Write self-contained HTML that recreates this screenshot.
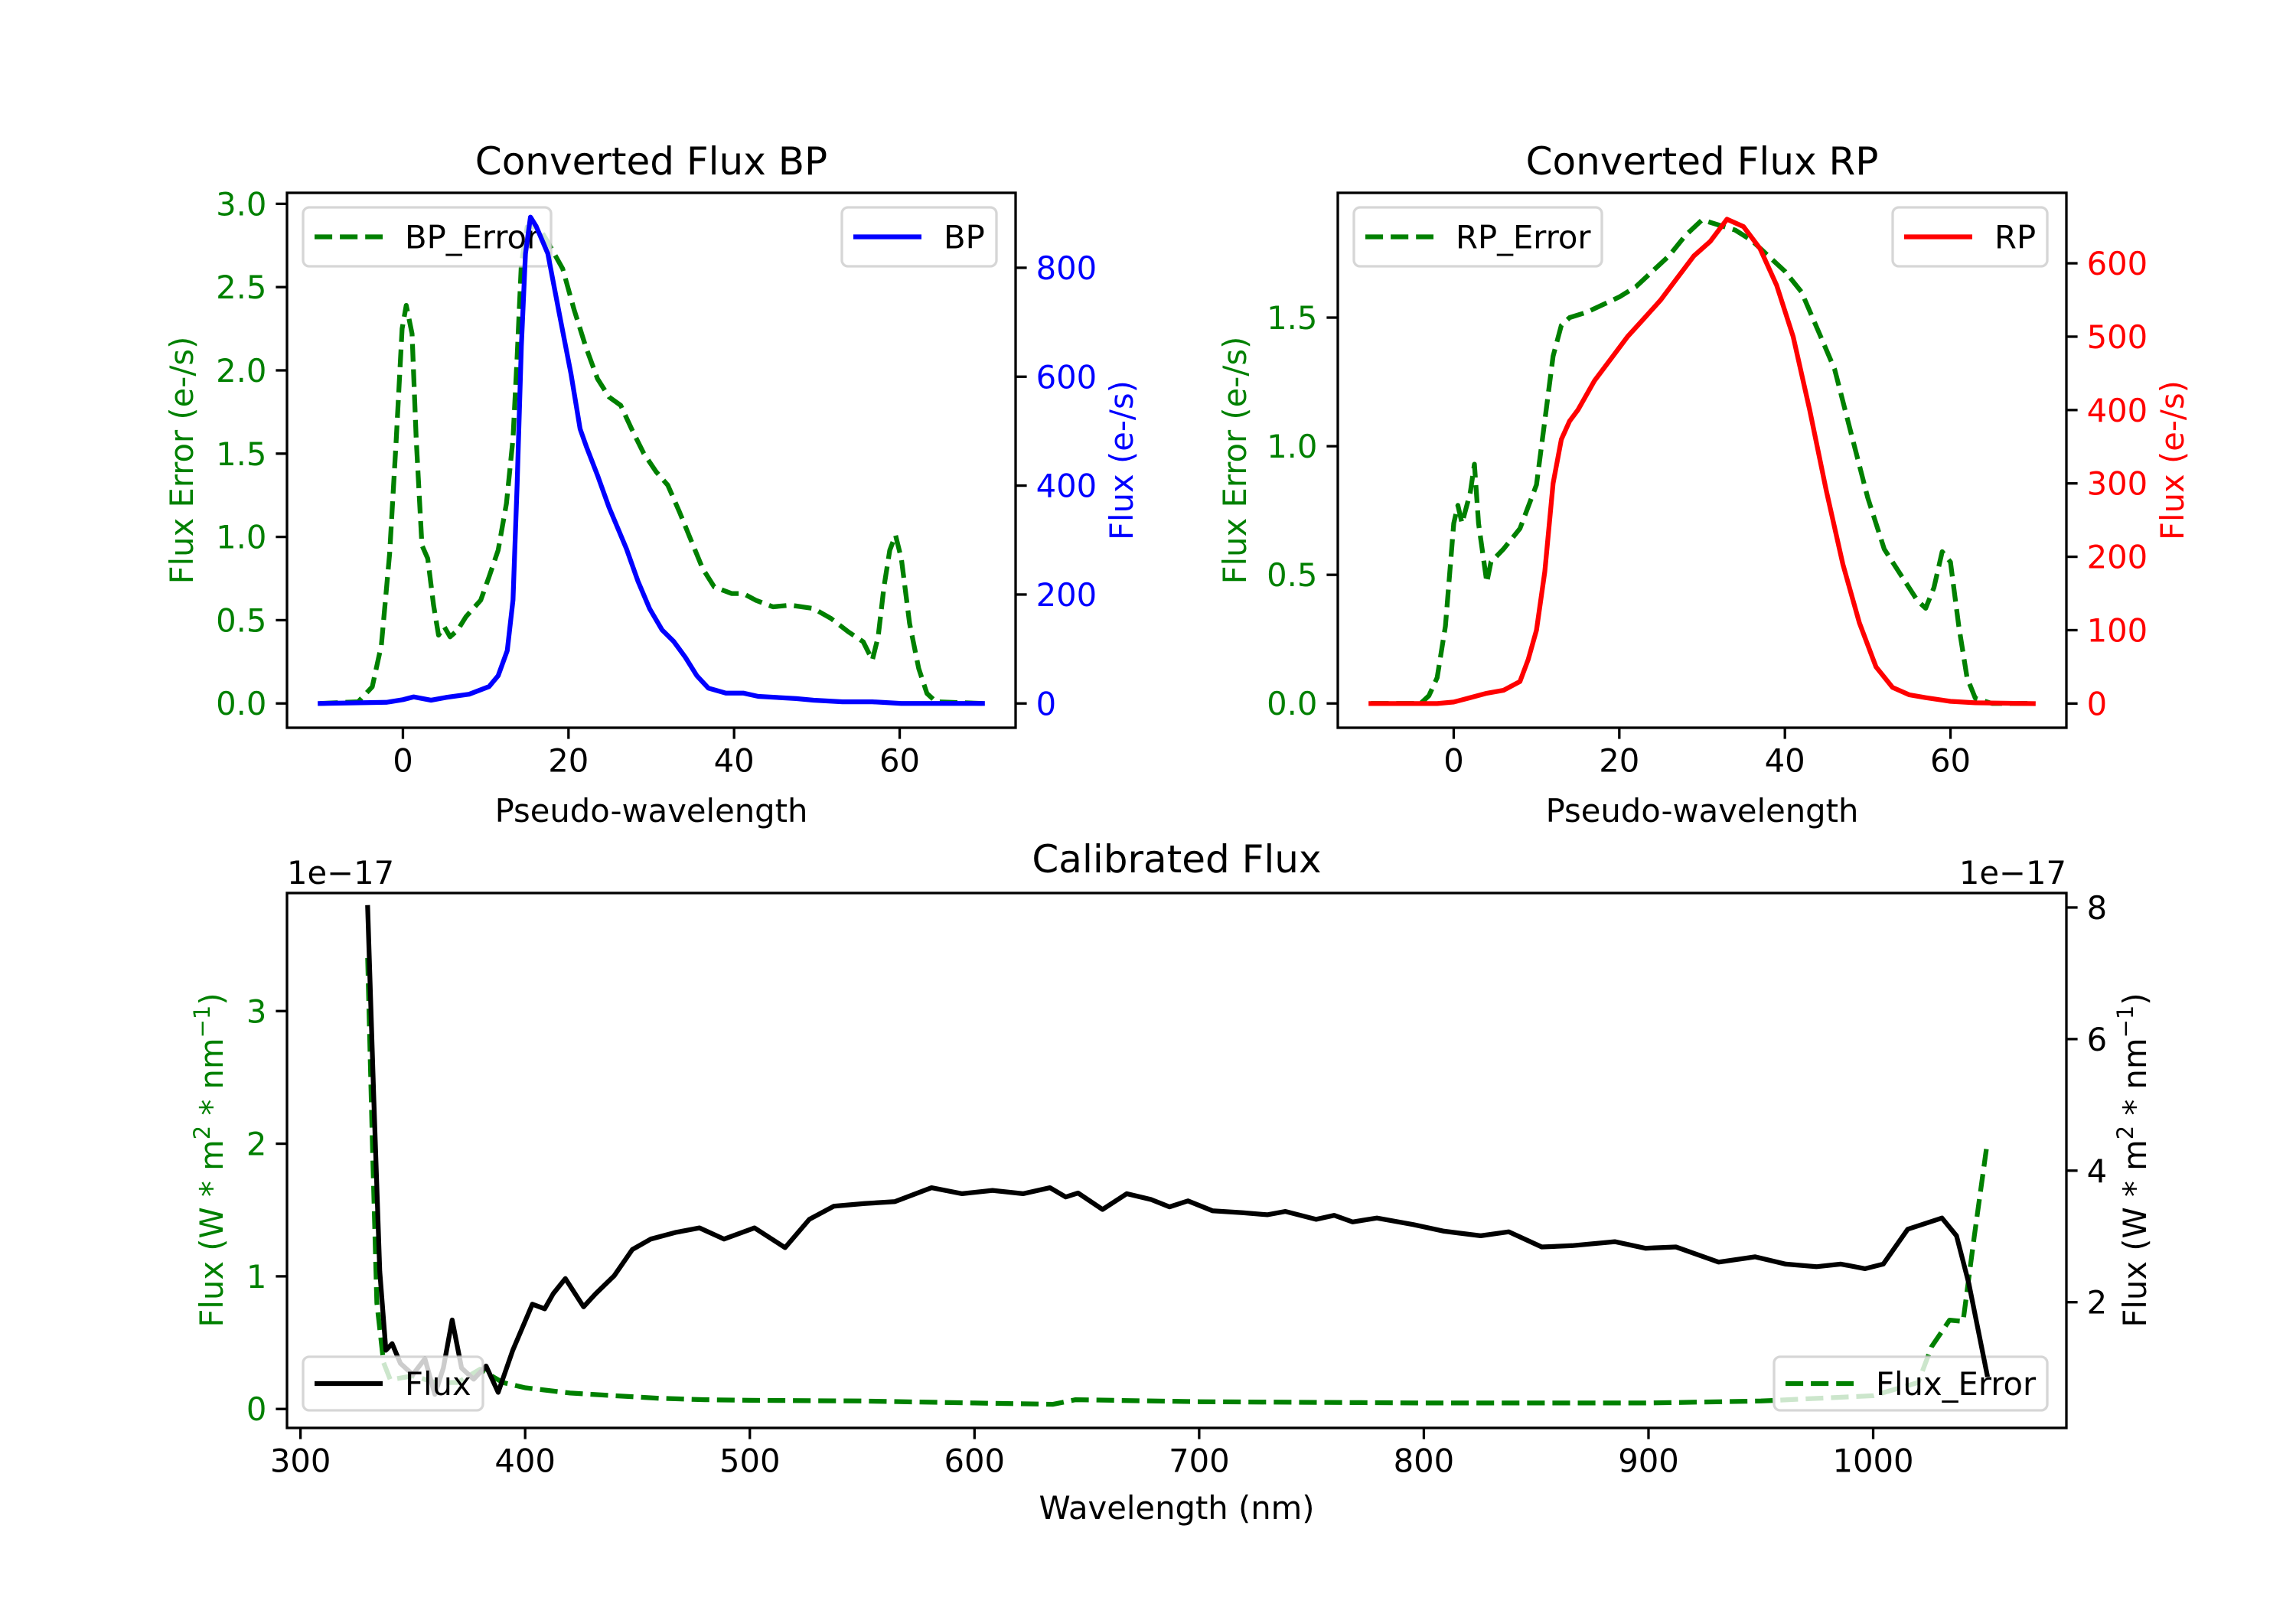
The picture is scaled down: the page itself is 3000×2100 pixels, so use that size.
<!DOCTYPE html>
<html><head><meta charset="utf-8">
<style>
html,body{margin:0;padding:0;background:#fff;}
svg{display:block;font-family:"DejaVu Sans","Liberation Sans",sans-serif;}
</style></head>
<body>
<svg id="fig" xmlns="http://www.w3.org/2000/svg" width="3000" height="2100" viewBox="0 0 3000 2100">
<rect x="0" y="0" width="3000" height="2100" fill="#fff"/>
<g id="root"></g>
</svg>
<script>
// ---- BP panel data ----
const bpX = [-10,-2,0,1.3,3.4,5.2,8,10.4,11.5,12.6,13.3,13.8,14.3,14.8,15.4,16.1,17.5,18.9,20.3,21.4,22.2,23.5,24.9,27,28.4,29.8,31.3,32.7,34.1,35.5,36.9,39,41.1,42.9,47.5,49.6,53.1,56.7,60.2,70];
const bpFlux = [0,2,7,12,6,11,17,31,51,97,190,402,656,826,893,876,826,715,605,504,470,419,360,284,224,174,135,114,85,51,28,19,19,13,9,6,3,3,0,0];
const bpErrX = [-10,-5.4,-3.7,-2.6,-1.6,-0.8,-0.1,0.4,1.1,1.6,2.3,3.0,3.7,4.3,5.0,5.7,6.6,7.6,9.4,10.4,11.5,12.5,13.3,13.8,14.3,15.0,16.4,17.5,19.3,20.7,22.1,23.5,24.9,26.3,27.7,29.1,30.6,32.0,33.4,34.8,36.2,37.6,39.7,41.1,42.6,44.7,46.8,49.6,51.7,53.8,55.6,56.7,57.4,58.1,58.8,59.5,60.2,61.2,62.3,63.3,64.4,70];
const bpErr = [0,0.01,0.1,0.35,0.9,1.59,2.25,2.39,2.22,1.59,0.95,0.87,0.59,0.41,0.46,0.4,0.44,0.52,0.62,0.76,0.92,1.2,1.59,2.08,2.64,2.86,2.86,2.77,2.61,2.36,2.14,1.95,1.84,1.79,1.64,1.5,1.39,1.31,1.15,0.98,0.81,0.7,0.66,0.66,0.62,0.58,0.59,0.57,0.51,0.43,0.37,0.26,0.4,0.7,0.92,1.01,0.87,0.48,0.21,0.06,0.01,0];
// ---- RP panel data ----
const rpX = [-10,-2,0,2,4,6,8,9,10,11,12,13,14,15,17,19,21,23,25,27,29,31,33,35,37,39,41,43,45,47,49,51,53,55,57,60,63,70];
const rpFlux = [0,0,2,8,14,18,30,60,100,180,300,360,385,400,440,470,500,525,550,580,610,630,660,650,620,570,500,400,290,190,110,50,22,12,8,3,1,0];
const rpErrX = [-10,-4,-3,-2,-1,0,0.5,1,2,2.5,3,4,4.5,6,8,10,11,12,13,14,16,18,20,22,24,26,28,30,32,34,36,38,40,42,44,46,48,50,52,54,56,57,58,59,60,61,62,63,65,70];
const rpErr = [0,0,0.03,0.1,0.3,0.7,0.77,0.7,0.82,0.93,0.7,0.47,0.55,0.6,0.68,0.85,1.1,1.35,1.47,1.5,1.52,1.55,1.58,1.62,1.68,1.74,1.82,1.88,1.86,1.84,1.8,1.74,1.68,1.6,1.45,1.3,1.05,0.8,0.6,0.5,0.4,0.37,0.45,0.59,0.55,0.3,0.1,0.02,0,0];
// ---- Calibrated panel data (units 1e-17) ----
const calX = [329.9,332.6,335.3,338,340.8,344.5,350,355.4,359.8,363.6,367.5,371.7,377.1,382.6,388,394.5,403.2,408.7,412.5,417.9,426,431.4,439.6,447.7,455.9,466.8,477.6,488.5,502.1,515.7,526.5,537.4,551,564.6,580.9,594.5,608,621.6,633.6,640.6,646.1,657,667.8,678.7,686.8,695,705.9,719.4,730.3,738.4,752,760.1,768.3,779.1,795.4,809,825.3,837.8,852.5,866,885,898.6,912.2,920.4,931.2,947.5,961.1,974.7,985.6,996.4,1004.5,1015.4,1030.6,1037.1,1042.6,1050.7];
const calFlux = [8.0,5.13,2.47,1.27,1.37,1.07,0.9,1.14,0.6,1.0,1.73,1.0,0.83,1.03,0.63,1.27,1.97,1.9,2.13,2.36,1.93,2.13,2.4,2.8,2.96,3.06,3.13,2.96,3.13,2.83,3.26,3.46,3.5,3.53,3.74,3.65,3.7,3.65,3.74,3.6,3.66,3.41,3.65,3.56,3.45,3.54,3.39,3.36,3.33,3.38,3.26,3.32,3.22,3.28,3.18,3.08,3.01,3.07,2.84,2.86,2.92,2.82,2.84,2.74,2.61,2.69,2.58,2.54,2.58,2.51,2.58,3.11,3.28,3.01,2.28,0.9];
const calErrX = [329.9,332,334,337,340,350,360,370,380,390,400,420,440,460,480,500,550,600,635,645,700,800,900,950,1000,1020,1026,1034,1040,1045,1050.7];
const calErr = [3.4,2.0,0.8,0.35,0.22,0.25,0.2,0.2,0.3,0.2,0.16,0.12,0.1,0.08,0.07,0.065,0.06,0.045,0.035,0.07,0.055,0.045,0.045,0.06,0.1,0.2,0.47,0.67,0.66,1.3,2.0];

const NS = 'http://www.w3.org/2000/svg';
const root = document.getElementById('root');
const FS = 41.7, TL = 14.6, LW = 6.25, SPW = 3.3;
function mk(tag, attrs, parent){ const e=document.createElementNS(NS,tag); for(const k in attrs) e.setAttribute(k,attrs[k]); (parent||root).appendChild(e); return e; }
function txt(s, attrs, parent){ const e=mk('text',attrs,parent); e.textContent=s; return e; }
function scale(d0,d1,r0,r1){ return v => r0+(v-d0)*(r1-r0)/(d1-d0); }
function linePath(xs, ys, sx, sy){ let d=''; for(let i=0;i<xs.length;i++){ d+=(i?'L':'M')+sx(xs[i]).toFixed(1)+','+sy(ys[i]).toFixed(1); } return d; }

function drawLine(g, xs, ys, sx, sy, color, dashed, name){
  const p = mk('path',{d:linePath(xs,ys,sx,sy),fill:'none',stroke:color,'stroke-width':LW,'stroke-linejoin':'round','stroke-linecap':dashed?'butt':'square'},g);
  if(dashed) p.setAttribute('stroke-dasharray','23.1 10');
  
  
  return p;
}
function drawLegend(g, x, y, w, h, label, color, dashed, name){
  const lg = mk('g',{},g);
  
  
  mk('rect',{x:x,y:y,width:w,height:h,rx:8,fill:'#fff','fill-opacity':0.8,stroke:'#cccccc','stroke-opacity':0.8,'stroke-width':3.3},lg);
  const l = mk('line',{x1:x+15,x2:x+104,y1:y+h/2,y2:y+h/2,stroke:color,'stroke-width':LW},lg);
  if(dashed) l.setAttribute('stroke-dasharray','23.1 10');
  txt(label,{x:x+133,y:y+h/2+15,'font-size':FS,fill:'#000'},lg);
}
function yTicks(g, vals, labels, x, sy, side, color){
  vals.forEach((v,i)=>{
    const y=sy(v);
    const dx = side==='left'?-TL:TL;
    mk('line',{x1:x,x2:x+dx,y1:y,y2:y,stroke:'#000','stroke-width':SPW},g);
    txt(labels[i],{x:side==='left'?x-TL-12:x+TL+12,y:y+15,'font-size':FS,fill:color,'text-anchor':side==='left'?'end':'start'},g);
  });
}
function xTicks(g, vals, labels, y, sx){
  vals.forEach((v,i)=>{
    const x=sx(v);
    mk('line',{x1:x,x2:x,y1:y,y2:y+TL,stroke:'#000','stroke-width':SPW},g);
    txt(labels[i],{x:x,y:y+TL+12+31,'font-size':FS,fill:'#000','text-anchor':'middle'},g);
  });
}
function frame(g,x0,y0,x1,y1){ mk('rect',{x:x0,y:y0,width:x1-x0,height:y1-y0,fill:'none',stroke:'#000','stroke-width':SPW},g); }
function clipFor(id,x0,y0,x1,y1){ const c=mk('clipPath',{id:id}); mk('rect',{x:x0,y:y0,width:x1-x0,height:y1-y0},c); return 'url(#'+id+')'; }
function vlabel(g,s,x,y,color,name){ const t=txt(s,{x:x,y:y,'font-size':FS,fill:color,'text-anchor':'middle',transform:'rotate(-90 '+x+' '+y+')'},g);   return t; }

// ===== Panel generator for BP / RP =====
function spectrumPanel(opt){
  const g = mk('g',{});  
  const x0=opt.x0,x1=opt.x1,y0=252,y1=951;
  const sx=scale(-14,74,x0,x1);
  const syL=scale(opt.lim[0],opt.lim[1],y1,y0);
  const syR=scale(opt.rlim[0],opt.rlim[1],y1,y0);
  const cp=clipFor(opt.name+'-clip',x0,y0,x1,y1);
  const gl=mk('g',{'clip-path':cp},g);
  drawLine(gl,opt.errX,opt.err,sx,syL,'#008000',true,opt.errName+'-line');
  drawLegend(g,x0+21,271,324,77,opt.errName,'#008000',true,opt.errName.toLowerCase().replace('_','-')+'-legend');
  const gr=mk('g',{'clip-path':cp},g);
  drawLine(gr,opt.fx,opt.fy,sx,syR,opt.color,false,opt.fluxName+'-line');
  drawLegend(g,x1-227,271,202,77,opt.fluxName,opt.color,false,opt.fluxName.toLowerCase()+'-legend');
  frame(g,x0,y0,x1,y1);
  xTicks(g,[0,20,40,60],['0','20','40','60'],y1,sx);
  yTicks(g,opt.lt,opt.lt.map(v=>v.toFixed(1)),x0,syL,'left','#008000');
  yTicks(g,opt.rt,opt.rt.map(v=>String(v)),x1,syR,'right',opt.color);
  const t=txt(opt.title,{x:(x0+x1)/2,y:228,'font-size':50,fill:'#000','text-anchor':'middle'},g);  
  const xl=txt('Pseudo-wavelength',{x:(x0+x1)/2,y:1074,'font-size':FS,fill:'#000','text-anchor':'middle'},g);  
  vlabel(g,'Flux Error (e-/s)',opt.llx,(y0+y1)/2+0,'#008000','left-y-axis-title');
  vlabel(g,'Flux (e-/s)',opt.rlx,(y0+y1)/2+0,opt.color,'right-y-axis-title');
}
spectrumPanel({name:'bp-panel',x0:375,x1:1327,lim:[-0.146,3.066],rlim:[-44.6,937.6],errX:bpErrX,err:bpErr,fx:bpX,fy:bpFlux,color:'#0000ff',errName:'BP_Error',fluxName:'BP',title:'Converted Flux BP',lt:[0,0.5,1,1.5,2,2.5,3],rt:[0,200,400,600,800],llx:252,rlx:1480});
spectrumPanel({name:'rp-panel',x0:1748,x1:2700,lim:[-0.0945,1.985],rlim:[-33,696],errX:rpErrX,err:rpErr,fx:rpX,fy:rpFlux,color:'#ff0000',errName:'RP_Error',fluxName:'RP',title:'Converted Flux RP',lt:[0,0.5,1,1.5],rt:[0,100,200,300,400,500,600],llx:1628,rlx:2853});

// ===== Calibrated panel =====
(function(){
  const g = mk('g',{});  
  const x0=375,x1=2700,y0=1167,y1=1866;
  const sx=scale(294,1086,x0,x1);
  const syL=scale(-0.143,3.89,y1,y0);
  const syR=scale(0.089,8.22,y1,y0);
  const cp=clipFor('cal-clip',x0,y0,x1,y1);
  const gl=mk('g',{'clip-path':cp},g);
  drawLine(gl,calErrX,calErr,sx,syL,'#008000',true,'flux-error-line');
  drawLegend(g,2318,1773,357,70,'Flux_Error','#008000',true,'flux-error-legend');
  const gr=mk('g',{'clip-path':cp},g);
  drawLine(gr,calX,calFlux,sx,syR,'#000000',false,'flux-line');
  drawLegend(g,396,1773,235,70,'Flux','#000000',false,'flux-legend');
  frame(g,x0,y0,x1,y1);
  const xt=[300,400,500,600,700,800,900,1000];
  xTicks(g,xt,xt.map(String),y1,sx);
  yTicks(g,[0,1,2,3],['0','1','2','3'],x0,syL,'left','#008000');
  yTicks(g,[2,4,6,8],['2','4','6','8'],x1,syR,'right','#000');
  const t=txt('Calibrated Flux',{x:(x0+x1)/2,y:1140,'font-size':50,fill:'#000','text-anchor':'middle'},g);  
  const xl=txt('Wavelength (nm)',{x:(x0+x1)/2,y:1985,'font-size':FS,fill:'#000','text-anchor':'middle'},g);  
  const o1=txt('1e\u221217',{x:375,y:1155,'font-size':FS,fill:'#000'},g);  
  const o2=txt('1e\u221217',{x:2700,y:1155,'font-size':FS,fill:'#000','text-anchor':'end'},g);  
  const lab = 'Flux (W * m<tspan baseline-shift="super" font-size="29">2</tspan> * nm<tspan baseline-shift="super" font-size="29">\u22121</tspan>)';
  const a=vlabel(g,'',291,1516,'#008000','left-y-axis-title'); a.innerHTML=lab;
  const b=vlabel(g,'',2804,1516,'#000','right-y-axis-title'); b.innerHTML=lab;
})();
</script>
</body></html>
